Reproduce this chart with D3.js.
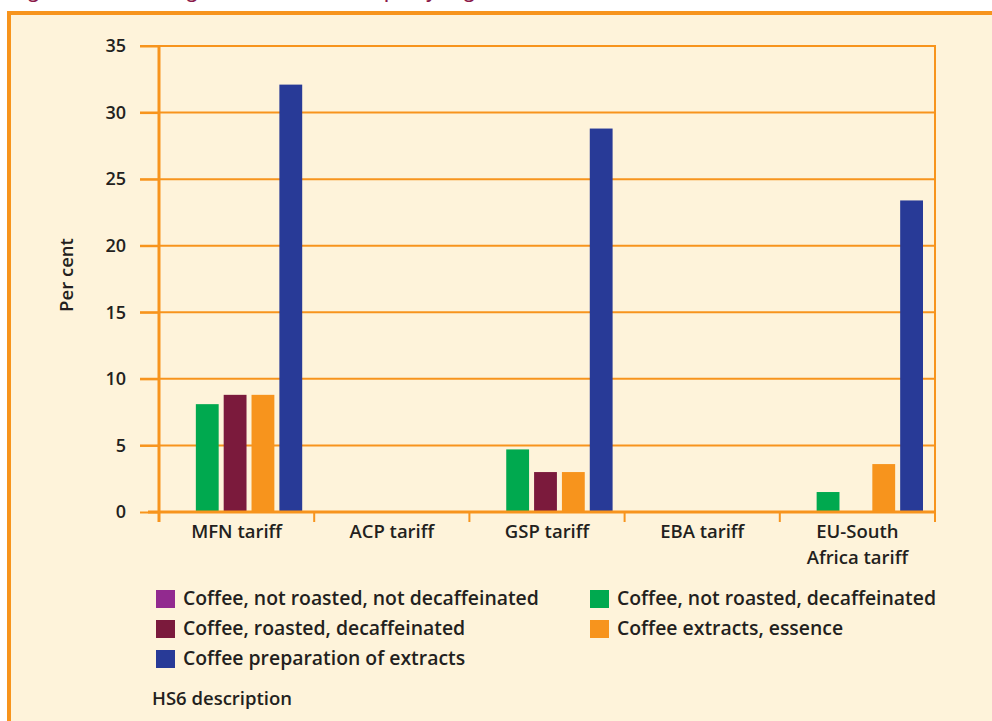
<!DOCTYPE html>
<html><head><meta charset="utf-8">
<script src="https://cdn.jsdelivr.net/npm/d3@7"></script>
<style>
html,body{margin:0;padding:0;background:#fff;}
svg{display:block;}
text{font-family:"Open Sans","DejaVu Sans",sans-serif;fill:#231f20;font-weight:600;}
</style></head>
<body>
<script>
const categories = ["MFN tariff","ACP tariff","GSP tariff","EBA tariff","EU-South Africa tariff"];
const seriesNames = ["Coffee, not roasted, not decaffeinated","Coffee, not roasted, decaffeinated","Coffee, roasted, decaffeinated","Coffee extracts, essence","Coffee preparation of extracts"];
const seriesColors = ["#922a8f","#00a94f","#7b1a3c","#f7941d","#283a97"];
const notRoastedNotDecaf = [0,0,0,0,0];
const notRoastedDecaf   = [8.1,0,4.7,0,1.5];
const roastedDecaf      = [8.8,0,3.0,0,0];
const extractsEssence   = [8.8,0,3.0,0,3.6];
const preparationExtracts = [32.1,0,28.8,0,23.4];
const seriesValues = [notRoastedNotDecaf,notRoastedDecaf,roastedDecaf,extractsEssence,preparationExtracts];
const yTicks = [0,5,10,15,20,25,30,35];

const W=992,H=721, orange="#f7941d";
const svg=d3.select("body").append("svg").attr("width",W).attr("height",H);
svg.append("rect").attr("x",0).attr("y",0).attr("width",W).attr("height",H).attr("fill","#fff");
svg.append("rect").attr("x",9).attr("y",13).attr("width",W).attr("height",H).attr("fill","#fef3da");
svg.append("line").attr("x1",7).attr("x2",W).attr("y1",13).attr("y2",13).attr("stroke",orange).attr("stroke-width",4);
svg.append("line").attr("x1",9).attr("x2",9).attr("y1",11).attr("y2",H).attr("stroke",orange).attr("stroke-width",4);
svg.append("text").attr("x",14).attr("y",-2).attr("font-size",18).attr("font-weight","bold").style("fill","#8b1a4a").text("Figure 3: EU tariff regime for coffee in Europe, by origin");

const x0=159,x1=935,y0=512,y1=46;
const x=d3.scaleBand().domain(categories).range([x0,x1]);
const y=d3.scaleLinear().domain([0,35]).range([y0,y1]);
const xs=d3.scaleBand().domain(d3.range(seriesNames.length)).range([9,x.bandwidth()-12]).paddingInner(0.18);

// gridlines
svg.append("g").selectAll("line").data(yTicks.filter(d=>d>0)).join("line")
 .attr("x1",140).attr("x2",x1).attr("y1",d=>y(d)).attr("y2",d=>y(d)).attr("stroke",orange).attr("stroke-width",2);
svg.append("line").attr("x1",x1).attr("x2",x1).attr("y1",y1-1).attr("y2",y0+10).attr("stroke",orange).attr("stroke-width",2);

// y axis
const ya=svg.append("g").attr("transform",`translate(${x0},0)`).call(d3.axisLeft(y).tickValues(yTicks).tickSize(19).tickPadding(14));
ya.select(".domain").attr("stroke",orange).attr("stroke-width",3).attr("d",`M0,${y1}V${y0+10}`);
ya.selectAll(".tick line").attr("stroke",orange).attr("stroke-width",2);
ya.selectAll(".tick text").attr("font-size",18).style("fill","#231f20").attr("font-family","'Open Sans',sans-serif").attr("font-weight",600);

// bars
const g=svg.append("g");
seriesValues.forEach((vals,si)=>{
  g.selectAll(null).data(vals).join("rect")
   .attr("x",(d,i)=>x(categories[i])+xs(si)).attr("width",xs.bandwidth())
   .attr("y",d=>y(d)).attr("height",d=>y0-y(d)).attr("fill",seriesColors[si]);
});

// x axis
svg.append("line").attr("x1",148).attr("x2",x1+1).attr("y1",y0).attr("y2",y0).attr("stroke",orange).attr("stroke-width",3);
svg.append("g").selectAll("line").data(d3.range(categories.length+1)).join("line")
 .attr("x1",i=>x0+i*x.step()).attr("x2",i=>x0+i*x.step()).attr("y1",y0).attr("y2",y0+10).attr("stroke",orange).attr("stroke-width",2);
const labelLines = [["MFN tariff"],["ACP tariff"],["GSP tariff"],["EBA tariff"],["EU-South","Africa tariff"]];
categories.forEach((c,i)=>{
  const t=svg.append("text").attr("x",x(c)+x.bandwidth()/2).attr("y",538).attr("text-anchor","middle").attr("font-size",18.5);
  labelLines[i].forEach((l,j)=>t.append("tspan").attr("x",x(c)+x.bandwidth()/2).attr("dy",j?26:0).text(l));
});

svg.append("text").attr("transform","translate(73,275) rotate(-90)").attr("text-anchor","middle").attr("font-size",18.5).text("Per cent");

// legend
const legPos=[[156,599],[590,599],[156,629],[590,629],[156,659]];
const order=[0,1,2,3,4];
order.forEach((si,k)=>{
  const [lx,ly]=legPos[k];
  svg.append("rect").attr("x",lx).attr("y",ly-9).attr("width",19).attr("height",18).attr("fill",seriesColors[si]);
  svg.append("text").attr("x",lx+27).attr("y",ly+6).attr("font-size",19.4).text(seriesNames[si]);
});
svg.append("text").attr("x",152).attr("y",705).attr("font-size",18.5).text("HS6 description");
</script>
</body></html>
